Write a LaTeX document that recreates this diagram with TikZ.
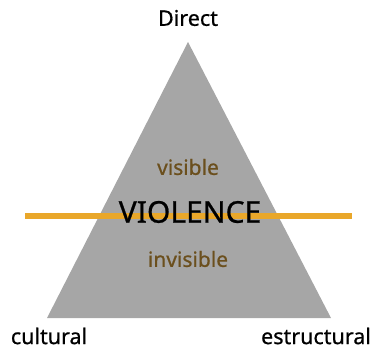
\documentclass[tikz,border=0pt]{standalone}
\usepackage{fontspec}
\setmainfont{Noto Sans}
\newfontfamily\labelfont{Noto Sans}[FakeBold=0.7]
\definecolor{pyramid}{HTML}{A6A6A6}
\definecolor{divider}{HTML}{E9A72A}
\definecolor{labelbrown}{HTML}{6B4F1D}
\begin{document}
\begin{tikzpicture}[x=1pt,y=-1pt,
  corner/.style={font=\labelfont\fontsize{21.5}{21.5}\selectfont, text=black, inner sep=0pt},
  level/.style={font=\labelfont\fontsize{21}{21}\selectfont, text=labelbrown, inner sep=0pt},
  title/.style={font=\labelfont\fontsize{30}{30}\selectfont, text=black, inner sep=0pt}]
  \useasboundingbox (0,0) rectangle (375,353);
  % triangle
  \coordinate (apex) at (188,42);
  \coordinate (bl) at (47,318);
  \coordinate (br) at (331,318);
  \fill[pyramid] (apex) -- (bl) -- (br) -- cycle;
  % divider line
  \coordinate (lineL) at (25,216);
  \coordinate (lineR) at (352,216);
  \draw[divider, line width=6pt] (lineL) -- (lineR);
  % labels
  \node[corner] (direct) at (188,18) {Direct};
  \node[level] (vis) at (188,167) {visible};
  \node[title] (viol) at (190,212) {VIOLENCE};
  \node[level] (invis) at (188,259) {invisible};
  \node[corner] (cult) at (49,336) {cultural};
  \node[corner] (estr) at (316,336) {estructural};
\end{tikzpicture}
\end{document}
